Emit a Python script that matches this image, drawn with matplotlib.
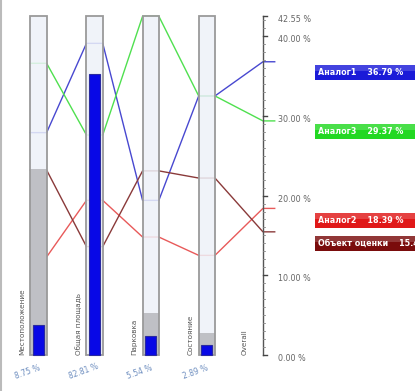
import matplotlib
matplotlib.use("Agg")
import matplotlib.pyplot as plt
from matplotlib.patches import Rectangle
import numpy as np

# criteria (columns) and their weights
criteria = ["Местоположение", "Общая площадь", "Парковка", "Состояние"]
weights = [8.75, 82.81, 5.54, 2.89]
gray_share = [54.7, 0.0, 12.4, 6.5]   # grey filling of each column, % of column height

# scores of every object on every criterion + overall
series = ["Аналог1", "Аналог3", "Аналог2", "Объект оценки"]
scores = {
    "Аналог1":       [27.9, 39.1, 19.4, 32.5],
    "Аналог3":       [36.6, 27.6, 42.5, 32.5],
    "Аналог2":       [12.3, 19.4, 14.8, 12.5],
    "Объект оценки": [23.2, 13.6, 23.1, 22.2],
}
overall = {"Аналог1": 36.79, "Аналог3": 29.37, "Аналог2": 18.39, "Объект оценки": 15.45}
ymax = 42.55

line_col = {"Аналог1": "#4848d0", "Аналог3": "#4fe04f", "Аналог2": "#e85a5a", "Объект оценки": "#8a3a3a"}
box_col = {"Аналог1": "#1a1ad8", "Аналог3": "#22d822", "Аналог2": "#e01818", "Объект оценки": "#7a0c0c"}
box_y = [35.45, 28.04, 16.88, 13.99]   # label box centres (shifted to avoid overlap)

fig = plt.figure(figsize=(4.15, 3.91), dpi=100)
ax = fig.add_axes([0, 0, 1, 1])
ax.set_xlim(-0.686, 6.71)
ax.set_ylim(-4.52, 44.54)
ax.axis("off")

hw = 0.145   # half width of a column
bw = 0.10    # half width of the blue weight bar
n = len(criteria)

# lines
for s in series:
    xs, ys = [], []
    for i, v in enumerate(scores[s]):
        xs += [i - hw, i + hw]
        ys += [v, v]
    xs += [n, n + 0.21]
    ys += [overall[s], overall[s]]
    ax.plot(xs, ys, color=line_col[s], lw=1.0, zorder=1)

# columns
for i in range(n):
    ax.add_patch(Rectangle((i - hw, 0), 2 * hw, ymax, facecolor="#eef2f9", edgecolor="none",
                           alpha=0.85, zorder=2))
    g = gray_share[i] / 100 * ymax
    if g > 0:
        ax.add_patch(Rectangle((i - hw, 0), 2 * hw, g, facecolor="#bfc0c5", edgecolor="none", zorder=3))
    ax.add_patch(Rectangle((i - hw, 0), 2 * hw, ymax, facecolor="none", edgecolor="#9a9a9a",
                           lw=1.3, zorder=4))
    b = weights[i] / 100 * ymax
    ax.add_patch(Rectangle((i - bw, 0), 2 * bw, b, facecolor="#0808e6", edgecolor="#2a2aa0",
                           lw=0.8, zorder=5))
    ax.text(i - 0.29, 0, criteria[i], rotation=90, ha="center", va="bottom", fontsize=5.2,
            color="#555555", zorder=6)
    ax.text(i - 0.2, -2.1, "%.2f %%" % weights[i], rotation=20, ha="center", va="center",
            fontsize=5.5, color="#6f8fc0", zorder=6)

ax.text(n - 0.32, 0, "Overall", rotation=90, ha="center", va="bottom", fontsize=5.2, color="#555555")

# overall axis
ax.plot([n, n], [0, ymax], color="#555555", lw=1.0, zorder=6)
for t in np.arange(0, 43, 1):
    ax.plot([n, n + 0.04], [t, t], color="#888888", lw=0.6, zorder=6)
for t in [0, 10, 20, 30, 40, ymax]:
    ax.plot([n, n + 0.08], [t, t], color="#444444", lw=1.0, zorder=6)
    ax.text(n + 0.26, t - 0.45, "%.2f %%" % t, ha="left", va="center", fontsize=5.8, color="#666666")

# label boxes
for s, yb in zip(series, box_y):
    x0 = n + 0.93
    h = 1.95
    ax.add_patch(Rectangle((x0, yb - h / 2), 3, h, facecolor=box_col[s], edgecolor="none", zorder=7))
    ax.add_patch(Rectangle((x0, yb + h * 0.1), 3, h * 0.38, facecolor="white", alpha=0.18,
                           edgecolor="none", zorder=7))
    ax.text(x0 + 0.06, yb, "%s    %.2f %%" % (s, overall[s]), ha="left", va="center",
            fontsize=5.8, color="white", fontweight="bold", zorder=8)

# left frame line
fig.add_artist(plt.Line2D([0.003, 0.003], [0, 1], color="#bbbbbb", lw=1.5))

fig.savefig("out.png", dpi=100)
